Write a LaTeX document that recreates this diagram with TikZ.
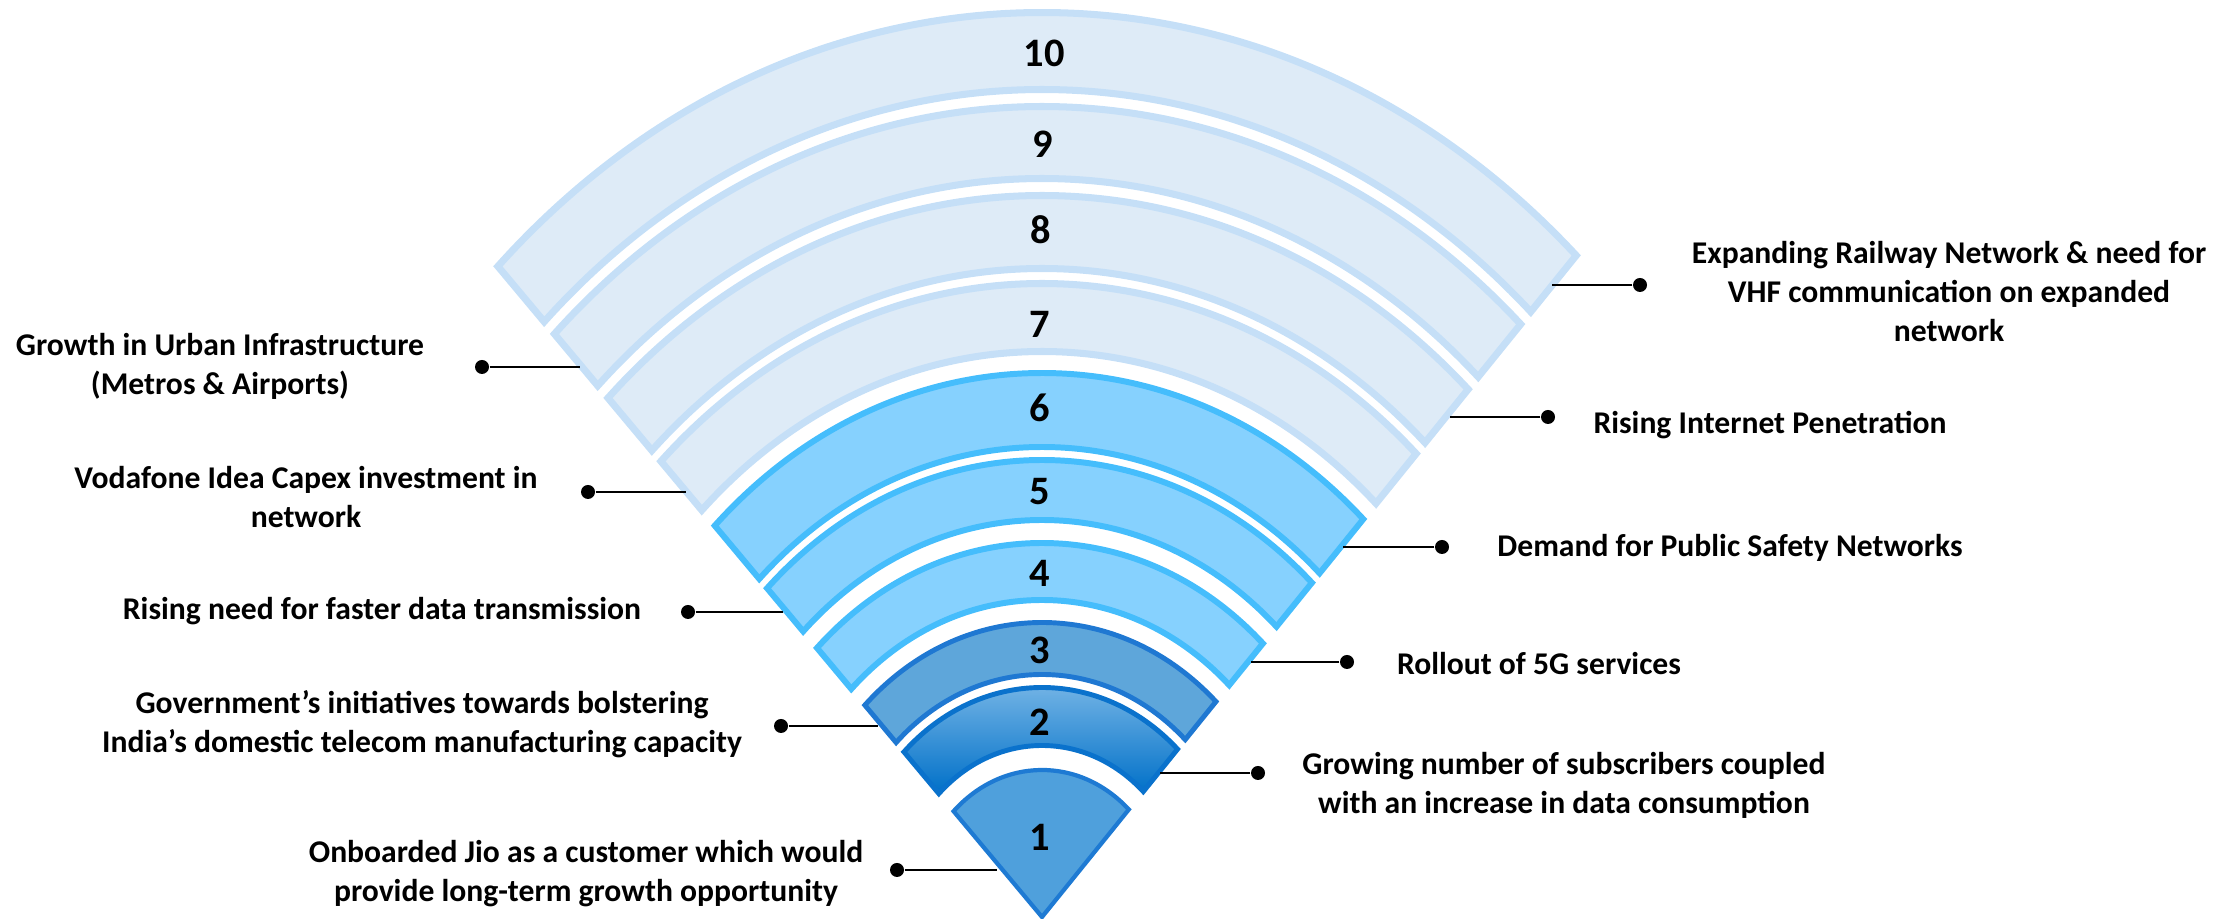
\documentclass[tikz,border=0pt]{standalone}
\usepackage{fontspec}
\setmainfont{Carlito}

\definecolor{paleFill}{HTML}{DEEBF7}
\definecolor{paleLine}{HTML}{C5DFF7}
\definecolor{skyFill}{HTML}{86D1FE}
\definecolor{skyLine}{HTML}{45BDFC}
\definecolor{midFill}{HTML}{5EA6DA}
\definecolor{midLine}{HTML}{1F78D2}
\definecolor{deepTop}{HTML}{86BFEA}
\definecolor{deepBot}{HTML}{0070C8}
\definecolor{deepLine}{HTML}{0A72CC}
\definecolor{coreFill}{HTML}{4FA0DC}
\definecolor{coreLine}{HTML}{1E7AD3}

\begin{document}
\begin{tikzpicture}
	\tikzstyle{pale} = [fill=paleFill, draw=paleLine, line width=2pt]
	\tikzstyle{sky} = [fill=skyFill, draw=skyLine, line width=1.7pt]
	\tikzstyle{num} = [font=\fontsize{11.5}{13}\selectfont\bfseries, inner sep=0pt]
	\tikzstyle{driver} = [font=\fontsize{9}{11.1}\selectfont\bfseries, align=center, inner sep=0pt]
	\tikzstyle{bullet} = [circle, fill=black, inner sep=0pt, minimum size=0.14cm]
	\tikzstyle{link} = [line width=0.6pt]

	\useasboundingbox (0,0) rectangle (22.40,9.19);

	% Draw the bands
	\begin{scope}[shift={(10.42,0.02)}, xscale=0.866]
		\filldraw[pale] (47:9.045) arc (47:134:9.045) -- (134:8.275) arc (134:47:8.275) -- cycle;
		\filldraw[pale] (47:8.105) arc (47:134:8.105) -- (134:7.385) arc (134:47:7.385) -- cycle;
		\filldraw[pale] (47:7.215) arc (47:134:7.215) -- (134:6.485) arc (134:47:6.485) -- cycle;
		\filldraw[pale] (47:6.335) arc (47:134:6.335) -- (134:5.655) arc (134:47:5.655) -- cycle;
		\filldraw[sky] (47:5.44) arc (47:134:5.44) -- (134:4.70) arc (134:47:4.70) -- cycle;
		\filldraw[sky] (47:4.57) arc (47:134:4.57) -- (134:3.97) arc (134:47:3.97) -- cycle;
		\filldraw[sky] (47:3.74) arc (47:134:3.74) -- (134:3.17) arc (134:47:3.17) -- cycle;
		\filldraw[fill=midFill, draw=midLine, line width=1.4pt] (47:2.945) arc (47:134:2.945) -- (134:2.425) arc (134:47:2.425) -- cycle;
		\shadedraw[top color=deepTop, bottom color=deepBot, draw=deepLine, line width=1.4pt] (47:2.295) arc (47:134:2.295) -- (134:1.715) arc (134:47:1.715) -- cycle;
		\filldraw[fill=coreFill, draw=coreLine, line width=1.2pt] (0,0) -- (47:1.47) arc (47:134:1.47) -- cycle;
	\end{scope}

	% Band numbers
	\node[num] (n10) at (10.44,8.66) {10};
	\node[num] (n9) at (10.43,7.75) {9};
	\node[num] (n8) at (10.41,6.89) {8};
	\node[num] (n7) at (10.40,5.95) {7};
	\node[num] (n6) at (10.40,5.11) {6};
	\node[num] (n5) at (10.40,4.27) {5};
	\node[num] (n4) at (10.40,3.46) {4};
	\node[num] (n3) at (10.40,2.69) {3};
	\node[num] (n2) at (10.40,1.97) {2};
	\node[num] (n1) at (10.40,0.82) {1};

	% Left side drivers
	\node[driver] (t9) at (2.20,5.53) {Growth in Urban Infrastructure\\(Metros \& Airports)};
	\node[driver] (t7) at (3.06,4.22) {Vodafone Idea Capex investment in\\network};
	\node[driver] (t5) at (3.82,3.08) {Rising need for faster data transmission};
	\node[driver] (t3) at (4.22,1.95) {Government’s initiatives towards bolstering\\India’s domestic telecom manufacturing capacity};
	\node[driver] (t1) at (5.86,0.45) {Onboarded Jio as a customer which would\\provide long-term growth opportunity};

	% Right side drivers
	\node[driver] (t10) at (19.49,6.27) {Expanding Railway Network \& need for\\VHF communication on expanded\\network};
	\node[driver] (t8) at (17.70,4.94) {Rising Internet Penetration};
	\node[driver] (t6) at (17.30,3.71) {Demand for Public Safety Networks};
	\node[driver] (t4) at (15.39,2.55) {Rollout of 5G services};
	\node[driver] (t2) at (15.64,1.34) {Growing number of subscribers coupled\\with an increase in data consumption};

	% Dots and band ends
	\node[bullet] (d9) at (4.82,5.52) {};
	\node[bullet] (d7) at (5.88,4.27) {};
	\node[bullet] (d5) at (6.88,3.07) {};
	\node[bullet] (d3) at (7.81,1.93) {};
	\node[bullet] (d1) at (8.97,0.49) {};
	\node[bullet] (d10) at (16.40,6.34) {};
	\node[bullet] (d8) at (15.48,5.02) {};
	\node[bullet] (d6) at (14.42,3.72) {};
	\node[bullet] (d4) at (13.47,2.57) {};
	\node[bullet] (d2) at (12.58,1.46) {};

	\coordinate (e9) at (5.80,5.52);
	\coordinate (e7) at (6.86,4.27);
	\coordinate (e5) at (7.83,3.07);
	\coordinate (e3) at (8.78,1.93);
	\coordinate (e1) at (9.97,0.49);
	\coordinate (e10) at (15.52,6.34);
	\coordinate (e8) at (14.50,5.02);
	\coordinate (e6) at (13.43,3.72);
	\coordinate (e4) at (12.51,2.57);
	\coordinate (e2) at (11.60,1.46);

	% Draw connectors
	\draw[link] (d9) -- (e9);
	\draw[link] (d7) -- (e7);
	\draw[link] (d5) -- (e5);
	\draw[link] (d3) -- (e3);
	\draw[link] (d1) -- (e1);
	\draw[link] (d10) -- (e10);
	\draw[link] (d8) -- (e8);
	\draw[link] (d6) -- (e6);
	\draw[link] (d4) -- (e4);
	\draw[link] (d2) -- (e2);

\end{tikzpicture}
\end{document}
